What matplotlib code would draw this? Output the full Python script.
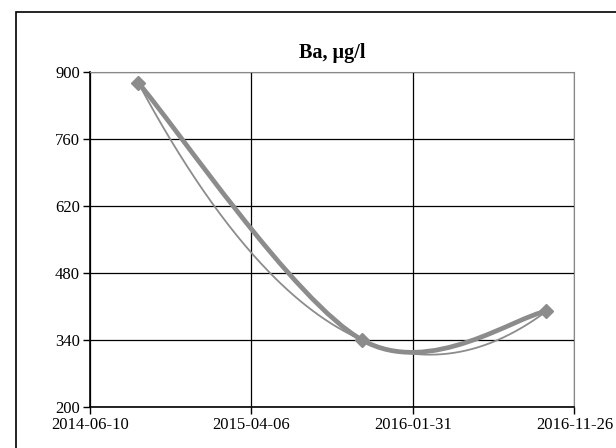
import datetime as dt
import numpy as np
import matplotlib
matplotlib.use('agg')
import matplotlib.pyplot as plt
import matplotlib.dates as mdates
from matplotlib.path import Path
from matplotlib.patches import PathPatch, Rectangle

# sample dates and Ba concentration (ug/l)
dates = ['2014-09-08', '2015-10-29', '2016-10-05']
ba = [878, 340, 400]
xticks = ['2014-06-10', '2015-04-06', '2016-01-31', '2016-11-26']
yticks = [200, 340, 480, 620, 760, 900]

x = mdates.date2num([dt.datetime.strptime(d, '%Y-%m-%d') for d in dates])
y = np.array(ba, dtype=float)
xt = mdates.date2num([dt.datetime.strptime(d, '%Y-%m-%d') for d in xticks])

plt.rcParams['font.family'] = ['Liberation Serif', 'DejaVu Serif']

fig = plt.figure(figsize=(6.16, 4.48), dpi=100)
# chart border (cut at right/bottom like the source)
fig.patches.append(Rectangle((16 / 616, -0.1), 1.2, 1 - 12 / 448 + 0.1,
                             transform=fig.transFigure, fill=False,
                             edgecolor='black', linewidth=1.2))

ax = fig.add_axes([0.1455, 0.0915, 0.787, 0.7477])
ax.set_xlim(xt[0], xt[-1])
ax.set_ylim(200, 900)

# excel-like smoothed line: cubic bezier through the points (in axes space)
px = (x - xt[0]) / (xt[-1] - xt[0])
py = (y - 200) / 700.0
pts = np.column_stack([px, py])
ext = np.vstack([pts[0], pts, pts[-1]])
verts = [pts[0]]
codes = [Path.MOVETO]
for i in range(len(pts) - 1):
    p0, p1, p2, p3 = ext[i], ext[i + 1], ext[i + 2], ext[i + 3]
    verts += [p1 + (p2 - p0) / 6, p2 - (p3 - p1) / 6, p2]
    codes += [Path.CURVE4] * 3
ax.add_patch(PathPatch(Path(verts, codes), transform=ax.transAxes,
                       fill=False, edgecolor='#8c8c8c', linewidth=3.4,
                       zorder=4))
ax.plot(x, y, linestyle='none', marker='D', markersize=7,
        color='#8c8c8c', zorder=5)

# polynomial (2nd order) trendline
c = np.polyfit(x, y, 2)
xs = np.linspace(x[0], x[-1], 200)
ax.plot(xs, np.polyval(c, xs), color='#8c8c8c', linewidth=1.3, zorder=3)

ax.set_xticks(xt)
ax.set_xticklabels(xticks)
ax.set_yticks(yticks)
ax.grid(True, color='black', linewidth=0.9)
ax.set_axisbelow(True)
for s in ['top', 'right']:
    ax.spines[s].set_color('#888888')
for s in ['left', 'bottom']:
    ax.spines[s].set_color('black')
    ax.spines[s].set_linewidth(1.2)
ax.tick_params(direction='out', length=5, width=1, labelsize=12, pad=2,
               colors='black')
ax.set_title('Ba, µg/l', fontsize=14.5, fontweight='bold', pad=10)

plt.savefig('out.png', dpi=100)
plt.close()
